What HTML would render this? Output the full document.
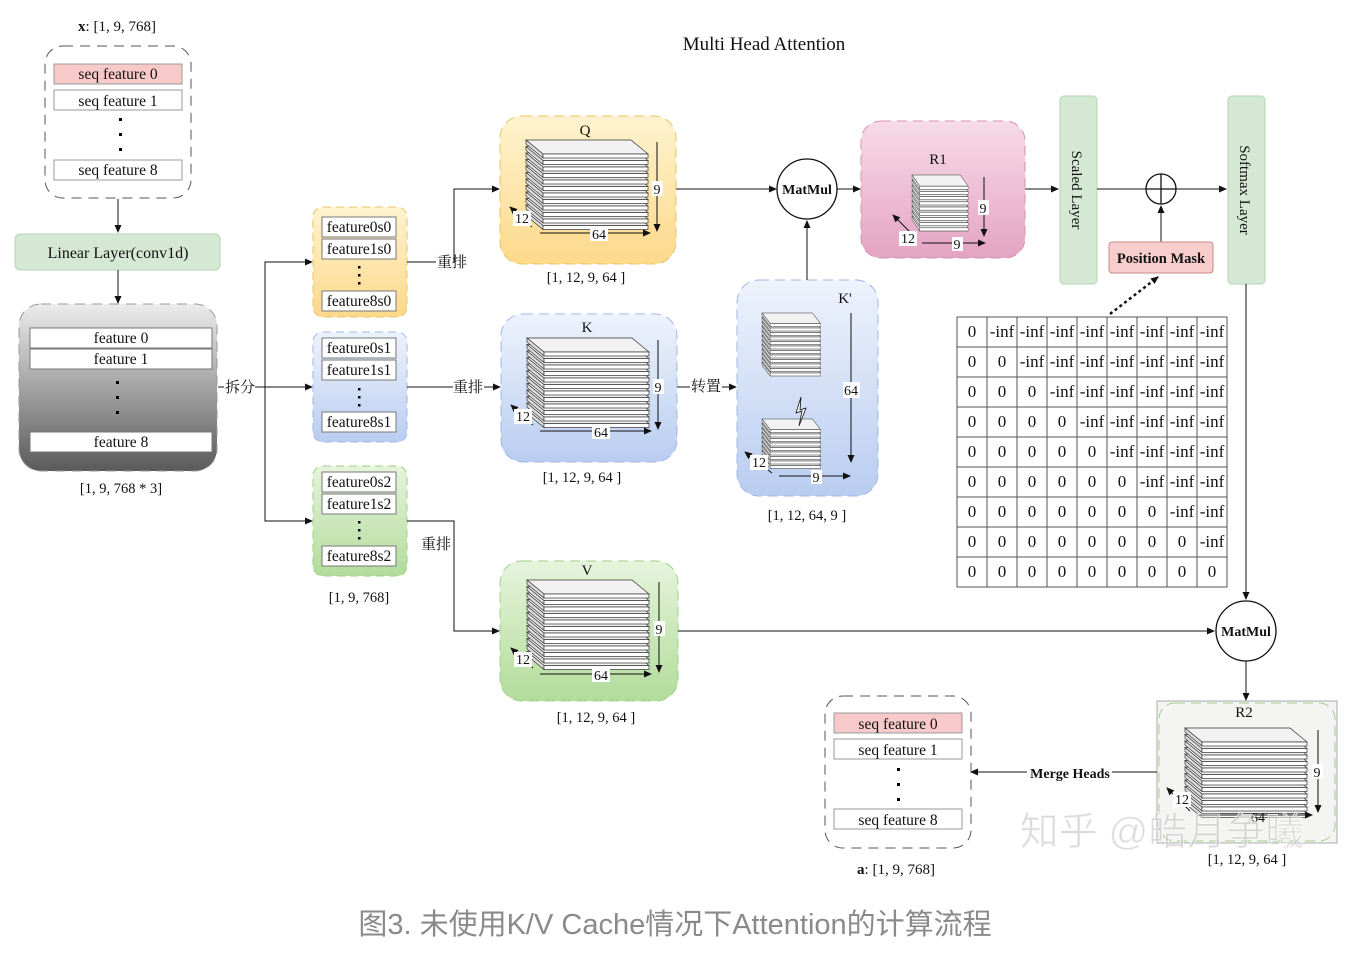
<!DOCTYPE html>
<html><head><meta charset="utf-8"><style>
html,body{margin:0;padding:0;background:#fff}
svg{display:block}
text{font-family:"Liberation Serif","Noto Serif CJK SC","Noto Sans CJK SC",serif;fill:#111}
.cap{font-family:"Liberation Sans","Noto Sans CJK SC",sans-serif;fill:#8a8a8a}
</style></head><body>
<svg width="1361" height="958" viewBox="0 0 1361 958" xmlns="http://www.w3.org/2000/svg">
<defs>
<marker id="ar" markerWidth="8" markerHeight="8" refX="7" refY="4" orient="auto" markerUnits="userSpaceOnUse"><path d="M0,0.5 L8,4 L0,7.5z" fill="#111"/></marker>
<linearGradient id="gy" x1="0" y1="0" x2="0" y2="1"><stop offset="0" stop-color="#ececec"/><stop offset="1" stop-color="#5a5a5a"/></linearGradient>
<linearGradient id="gyel" x1="0" y1="0" x2="0" y2="1"><stop offset="0" stop-color="#fff3cf"/><stop offset="1" stop-color="#fcd98a"/></linearGradient>
<linearGradient id="gblu" x1="0" y1="0" x2="0" y2="1"><stop offset="0" stop-color="#eef3fc"/><stop offset="1" stop-color="#b9cdf0"/></linearGradient>
<linearGradient id="ggrn" x1="0" y1="0" x2="0" y2="1"><stop offset="0" stop-color="#e6f4dc"/><stop offset="1" stop-color="#b2dc9b"/></linearGradient>
<linearGradient id="gpink" x1="0" y1="0" x2="0" y2="1"><stop offset="0" stop-color="#f7dbe7"/><stop offset="1" stop-color="#e4a4c2"/></linearGradient>
<g id="plate"><path d="M0,0 L105,0 L122,14 L17,14z" fill="#f2f2f2" stroke="#333" stroke-width="0.7"/><path d="M0,0 L17,14 L17,18 L0,4z" fill="#ddd" stroke="#333" stroke-width="0.7"/><rect x="17" y="14" width="105" height="4" fill="#fff" stroke="#333" stroke-width="0.7"/></g>
<g id="stack12"><use href="#plate" y="71.5"/><use href="#plate" y="65"/><use href="#plate" y="58.5"/><use href="#plate" y="52"/><use href="#plate" y="45.5"/><use href="#plate" y="39"/><use href="#plate" y="32.5"/><use href="#plate" y="26"/><use href="#plate" y="19.5"/><use href="#plate" y="13"/><use href="#plate" y="6.5"/><use href="#plate" y="0"/></g>
</defs>

<!-- input x -->
<text x="117" y="31" font-size="15" text-anchor="middle"><tspan font-weight="bold">x</tspan>: [1, 9, 768]</text>
<rect x="45" y="46" width="146" height="152" rx="18" fill="#fff" stroke="#555" stroke-dasharray="10,7"/>
<rect x="54" y="64" width="128" height="20" fill="#f8c9c9" stroke="#999"/><text x="118" y="79" font-size="15.5" text-anchor="middle">seq feature 0</text>
<rect x="54" y="90" width="128" height="20" fill="#fff" stroke="#999"/><text x="118" y="106" font-size="15.5" text-anchor="middle">seq feature 1</text>
<rect x="119" y="118" width="3" height="3"/><rect x="119" y="133" width="3" height="3"/><rect x="119" y="148" width="3" height="3"/>
<rect x="54" y="160" width="128" height="20" fill="#fff" stroke="#999"/><text x="118" y="175" font-size="15.5" text-anchor="middle">seq feature 8</text>
<line x1="118" y1="199" x2="118" y2="232" stroke="#111" marker-end="url(#ar)"/>
<rect x="15" y="234" width="205" height="36" rx="5" fill="#d5e8d4" stroke="#b5d6b0"/>
<text x="118" y="258" font-size="16" text-anchor="middle">Linear Layer(conv1d)</text>
<line x1="118" y1="270" x2="118" y2="303" stroke="#111" marker-end="url(#ar)"/>
<rect x="19" y="304" width="198" height="167" rx="22" fill="url(#gy)" stroke="#999" stroke-dasharray="10,7"/>
<rect x="30" y="328" width="182" height="20" fill="#fff" stroke="#777"/><text x="121" y="343" font-size="15.5" text-anchor="middle">feature 0</text>
<rect x="30" y="349" width="182" height="20" fill="#fff" stroke="#777"/><text x="121" y="364" font-size="15.5" text-anchor="middle">feature 1</text>
<rect x="116" y="381" width="3" height="3"/><rect x="116" y="396" width="3" height="3"/><rect x="116" y="411" width="3" height="3"/>
<rect x="30" y="432" width="182" height="20" fill="#fff" stroke="#777"/><text x="121" y="447" font-size="15.5" text-anchor="middle">feature 8</text>
<text x="121" y="493" font-size="14.5" text-anchor="middle">[1, 9, 768 * 3]</text>

<!-- split -->
<line x1="218" y1="387" x2="224" y2="387" stroke="#111"/>
<text x="225" y="392" font-size="15">拆分</text>
<line x1="255" y1="387" x2="312" y2="387" stroke="#111" marker-end="url(#ar)"/>
<polyline points="265,387 265,262 312,262" fill="none" stroke="#111" marker-end="url(#ar)"/>
<polyline points="265,387 265,521 312,521" fill="none" stroke="#111" marker-end="url(#ar)"/>

<!-- feature groups -->
<g font-size="15.5">
<rect x="313" y="207" width="94" height="110" rx="10" fill="url(#gyel)" stroke="#e8c46a" stroke-dasharray="8,5"/>
<rect x="322" y="217" width="74" height="20" fill="#fff" stroke="#777"/><text x="359" y="232" text-anchor="middle">feature0s0</text>
<rect x="322" y="239" width="74" height="20" fill="#fff" stroke="#777"/><text x="359" y="254" text-anchor="middle">feature1s0</text>
<rect x="358" y="266" width="2.5" height="2.5"/><rect x="358" y="274" width="2.5" height="2.5"/><rect x="358" y="282" width="2.5" height="2.5"/>
<rect x="322" y="291" width="74" height="20" fill="#fff" stroke="#777"/><text x="359" y="306" text-anchor="middle">feature8s0</text>

<rect x="313" y="332" width="94" height="110" rx="10" fill="url(#gblu)" stroke="#9fb7e6" stroke-dasharray="8,5"/>
<rect x="322" y="338" width="74" height="20" fill="#fff" stroke="#777"/><text x="359" y="353" text-anchor="middle">feature0s1</text>
<rect x="322" y="360" width="74" height="20" fill="#fff" stroke="#777"/><text x="359" y="375" text-anchor="middle">feature1s1</text>
<rect x="358" y="388" width="2.5" height="2.5"/><rect x="358" y="396" width="2.5" height="2.5"/><rect x="358" y="404" width="2.5" height="2.5"/>
<rect x="322" y="412" width="74" height="20" fill="#fff" stroke="#777"/><text x="359" y="427" text-anchor="middle">feature8s1</text>

<rect x="313" y="466" width="94" height="110" rx="10" fill="url(#ggrn)" stroke="#9fd088" stroke-dasharray="8,5"/>
<rect x="322" y="472" width="74" height="20" fill="#fff" stroke="#777"/><text x="359" y="487" text-anchor="middle">feature0s2</text>
<rect x="322" y="494" width="74" height="20" fill="#fff" stroke="#777"/><text x="359" y="509" text-anchor="middle">feature1s2</text>
<rect x="358" y="521" width="2.5" height="2.5"/><rect x="358" y="529" width="2.5" height="2.5"/><rect x="358" y="537" width="2.5" height="2.5"/>
<rect x="322" y="546" width="74" height="20" fill="#fff" stroke="#777"/><text x="359" y="561" text-anchor="middle">feature8s2</text>
</g>
<text x="359" y="602" font-size="14.5" text-anchor="middle">[1, 9, 768]</text>

<!-- rearrange connectors -->
<line x1="407" y1="262" x2="436" y2="262" stroke="#111"/>
<text x="437" y="267" font-size="15">重排</text>
<polyline points="454,262 454,189 499,189" fill="none" stroke="#111" marker-end="url(#ar)"/>
<line x1="407" y1="387" x2="453" y2="387" stroke="#111"/>
<text x="453" y="392" font-size="15">重排</text>
<line x1="484" y1="387" x2="500" y2="387" stroke="#111" marker-end="url(#ar)"/>
<polyline points="407,521 454,521 454,631 499,631" fill="none" stroke="#111" marker-end="url(#ar)"/>
<rect x="420" y="535" width="32" height="18" fill="#fff"/>
<text x="421" y="549" font-size="15">重排</text>

<!-- Q -->
<rect x="500" y="116" width="176" height="148" rx="22" fill="url(#gyel)" stroke="#e8c46a" stroke-dasharray="10,6"/>
<text x="585" y="135" font-size="15" text-anchor="middle">Q</text>
<use href="#stack12" x="526" y="140"/>
<line x1="657" y1="142" x2="657" y2="231" stroke="#111" marker-end="url(#ar)"/>
<rect x="652" y="181" width="11" height="15" fill="#fff"/><text x="657" y="194" font-size="14" text-anchor="middle">9</text>
<line x1="540" y1="233" x2="650" y2="233" stroke="#111" marker-end="url(#ar)"/>
<rect x="590" y="227" width="18" height="14" fill="#fff"/><text x="599" y="239" font-size="14" text-anchor="middle">64</text>
<line x1="532" y1="227" x2="510" y2="207" stroke="#111" marker-end="url(#ar)"/>
<rect x="513" y="211" width="18" height="15" fill="#fff"/><text x="522" y="223" font-size="14" text-anchor="middle">12</text>
<text x="586" y="282" font-size="14.5" text-anchor="middle">[1, 12, 9, 64 ]</text>

<!-- K -->
<rect x="501" y="314" width="176" height="148" rx="22" fill="url(#gblu)" stroke="#9fb7e6" stroke-dasharray="10,6"/>
<text x="587" y="332" font-size="15" text-anchor="middle">K</text>
<use href="#stack12" x="527" y="338"/>
<line x1="658" y1="340" x2="658" y2="429" stroke="#111" marker-end="url(#ar)"/>
<rect x="653" y="379" width="11" height="15" fill="#fff"/><text x="658" y="392" font-size="14" text-anchor="middle">9</text>
<line x1="540" y1="431" x2="651" y2="431" stroke="#111" marker-end="url(#ar)"/>
<rect x="592" y="425" width="18" height="14" fill="#fff"/><text x="601" y="437" font-size="14" text-anchor="middle">64</text>
<line x1="533" y1="425" x2="511" y2="405" stroke="#111" marker-end="url(#ar)"/>
<rect x="514" y="409" width="18" height="15" fill="#fff"/><text x="523" y="421" font-size="14" text-anchor="middle">12</text>
<text x="582" y="482" font-size="14.5" text-anchor="middle">[1, 12, 9, 64 ]</text>
<line x1="677" y1="387" x2="690" y2="387" stroke="#111"/>
<text x="691" y="391" font-size="15">转置</text>
<line x1="722" y1="387" x2="736" y2="387" stroke="#111" marker-end="url(#ar)"/>

<!-- V -->
<rect x="500" y="561" width="178" height="140" rx="22" fill="url(#ggrn)" stroke="#9fd088" stroke-dasharray="10,6"/>
<text x="587" y="575" font-size="15" text-anchor="middle">V</text>
<use href="#stack12" x="527" y="580"/>
<line x1="659" y1="582" x2="659" y2="672" stroke="#111" marker-end="url(#ar)"/>
<rect x="654" y="621" width="11" height="15" fill="#fff"/><text x="659" y="634" font-size="14" text-anchor="middle">9</text>
<line x1="540" y1="674" x2="651" y2="674" stroke="#111" marker-end="url(#ar)"/>
<rect x="592" y="668" width="18" height="14" fill="#fff"/><text x="601" y="680" font-size="14" text-anchor="middle">64</text>
<line x1="533" y1="668" x2="511" y2="648" stroke="#111" marker-end="url(#ar)"/>
<rect x="514" y="652" width="18" height="15" fill="#fff"/><text x="523" y="664" font-size="14" text-anchor="middle">12</text>
<text x="596" y="722" font-size="14.5" text-anchor="middle">[1, 12, 9, 64 ]</text>
<line x1="678" y1="631" x2="1214" y2="631" stroke="#111" marker-end="url(#ar)"/>

<!-- K' -->
<rect x="737" y="280" width="141" height="216" rx="22" fill="url(#gblu)" stroke="#9fb7e6" stroke-dasharray="10,6"/>
<text x="845" y="303" font-size="15" text-anchor="middle">K'</text>
<g transform="translate(762,313) scale(0.48,0.75)"><use href="#plate" y="66"/><use href="#plate" y="60"/><use href="#plate" y="54"/><use href="#plate" y="48"/><use href="#plate" y="42"/><use href="#plate" y="36"/><use href="#plate" y="30"/><use href="#plate" y="24"/><use href="#plate" y="18"/><use href="#plate" y="12"/><use href="#plate" y="6"/><use href="#plate" y="0"/></g>
<g transform="translate(762,419) scale(0.48,0.75)"><use href="#plate" y="48"/><use href="#plate" y="42"/><use href="#plate" y="36"/><use href="#plate" y="30"/><use href="#plate" y="24"/><use href="#plate" y="18"/><use href="#plate" y="12"/><use href="#plate" y="6"/><use href="#plate" y="0"/></g>
<path d="M801,397 L796,413 L802,411 L799,426 L806,408 L800,410z" fill="#fff" stroke="#111" stroke-width="0.8"/>
<line x1="851" y1="313" x2="851" y2="462" stroke="#111" marker-end="url(#ar)"/>
<rect x="843" y="382" width="17" height="16" fill="#fff"/><text x="851" y="395" font-size="14" text-anchor="middle">64</text>
<line x1="779" y1="476" x2="850" y2="476" stroke="#111" marker-end="url(#ar)"/>
<rect x="811" y="470" width="11" height="14" fill="#fff"/><text x="816" y="482" font-size="14" text-anchor="middle">9</text>
<line x1="772" y1="473" x2="745" y2="452" stroke="#111" marker-end="url(#ar)"/>
<rect x="750" y="455" width="18" height="15" fill="#fff"/><text x="759" y="467" font-size="14" text-anchor="middle">12</text>
<text x="807" y="520" font-size="14.5" text-anchor="middle">[1, 12, 64, 9 ]</text>
<line x1="807" y1="280" x2="807" y2="221" stroke="#111" marker-end="url(#ar)"/>

<!-- MatMul 1 -->
<line x1="676" y1="189" x2="776" y2="189" stroke="#111" marker-end="url(#ar)"/>
<circle cx="807" cy="189" r="30" fill="#fff" stroke="#111" stroke-width="1.3"/>
<text x="807" y="194" font-size="14" font-weight="bold" text-anchor="middle">MatMul</text>
<line x1="837" y1="189" x2="860" y2="189" stroke="#111" marker-end="url(#ar)"/>
<text x="764" y="50" font-size="19" text-anchor="middle">Multi Head Attention</text>

<!-- R1 -->
<rect x="861" y="121" width="164" height="137" rx="20" fill="url(#gpink)" stroke="#d88fb3" stroke-dasharray="10,6"/>
<text x="938" y="164" font-size="15" text-anchor="middle">R1</text>
<g transform="translate(912,175) scale(0.46,0.8)"><use href="#plate" y="52"/><use href="#plate" y="45.5"/><use href="#plate" y="39"/><use href="#plate" y="32.5"/><use href="#plate" y="26"/><use href="#plate" y="19.5"/><use href="#plate" y="13"/><use href="#plate" y="6.5"/><use href="#plate" y="0"/></g>
<line x1="984" y1="177" x2="984" y2="236" stroke="#111" marker-end="url(#ar)"/>
<rect x="978" y="200" width="11" height="15" fill="#fff"/><text x="983" y="213" font-size="14" text-anchor="middle">9</text>
<line x1="922" y1="243" x2="985" y2="243" stroke="#111" marker-end="url(#ar)"/>
<rect x="952" y="237" width="11" height="14" fill="#fff"/><text x="957" y="249" font-size="14" text-anchor="middle">9</text>
<line x1="914" y1="236" x2="893" y2="215" stroke="#111" marker-end="url(#ar)"/>
<rect x="899" y="231" width="18" height="15" fill="#fff"/><text x="908" y="243" font-size="14" text-anchor="middle">12</text>
<line x1="1025" y1="189" x2="1058" y2="189" stroke="#111" marker-end="url(#ar)"/>

<!-- Scaled / Softmax -->
<rect x="1060" y="96" width="37" height="188" rx="4" fill="#d5e8d4" stroke="#b5d6b0"/>
<text font-size="15" transform="translate(1072,190) rotate(90)" text-anchor="middle">Scaled Layer</text>
<line x1="1097" y1="189" x2="1226" y2="189" stroke="#111" marker-end="url(#ar)"/>
<circle cx="1161" cy="189" r="15" fill="#fff" stroke="#111" stroke-width="1.3"/>
<line x1="1146" y1="189" x2="1176" y2="189" stroke="#111" stroke-width="1.3"/><line x1="1161" y1="174" x2="1161" y2="204" stroke="#111" stroke-width="1.3"/>
<rect x="1228" y="96" width="37" height="188" rx="4" fill="#d5e8d4" stroke="#b5d6b0"/>
<text font-size="15" transform="translate(1240,190) rotate(90)" text-anchor="middle">Softmax Layer</text>
<line x1="1161" y1="242" x2="1161" y2="206" stroke="#111" marker-end="url(#ar)"/>
<rect x="1109" y="242" width="104" height="31" rx="3" fill="#f8cecc" stroke="#c98b89"/>
<text x="1161" y="263" font-size="14.5" font-weight="bold" text-anchor="middle">Position Mask</text>
<line x1="1110" y1="314" x2="1158" y2="277" stroke="#111" stroke-width="2.5" stroke-dasharray="3,3" marker-end="url(#ar)"/>

<!-- matrix -->
<g font-size="17" text-anchor="middle">
<rect x="957" y="317" width="270" height="270" fill="#fff" stroke="#555"/>
<path d="M957,347H1227M957,377H1227M957,407H1227M957,437H1227M957,467H1227M957,497H1227M957,527H1227M957,557H1227M987,317V587M1017,317V587M1047,317V587M1077,317V587M1107,317V587M1137,317V587M1167,317V587M1197,317V587" stroke="#555" fill="none"/>
<text x="972" y="337">0</text><text x="1002" y="337">-inf</text><text x="1032" y="337">-inf</text><text x="1062" y="337">-inf</text><text x="1092" y="337">-inf</text><text x="1122" y="337">-inf</text><text x="1152" y="337">-inf</text><text x="1182" y="337">-inf</text><text x="1212" y="337">-inf</text>
<text x="972" y="367">0</text><text x="1002" y="367">0</text><text x="1032" y="367">-inf</text><text x="1062" y="367">-inf</text><text x="1092" y="367">-inf</text><text x="1122" y="367">-inf</text><text x="1152" y="367">-inf</text><text x="1182" y="367">-inf</text><text x="1212" y="367">-inf</text>
<text x="972" y="397">0</text><text x="1002" y="397">0</text><text x="1032" y="397">0</text><text x="1062" y="397">-inf</text><text x="1092" y="397">-inf</text><text x="1122" y="397">-inf</text><text x="1152" y="397">-inf</text><text x="1182" y="397">-inf</text><text x="1212" y="397">-inf</text>
<text x="972" y="427">0</text><text x="1002" y="427">0</text><text x="1032" y="427">0</text><text x="1062" y="427">0</text><text x="1092" y="427">-inf</text><text x="1122" y="427">-inf</text><text x="1152" y="427">-inf</text><text x="1182" y="427">-inf</text><text x="1212" y="427">-inf</text>
<text x="972" y="457">0</text><text x="1002" y="457">0</text><text x="1032" y="457">0</text><text x="1062" y="457">0</text><text x="1092" y="457">0</text><text x="1122" y="457">-inf</text><text x="1152" y="457">-inf</text><text x="1182" y="457">-inf</text><text x="1212" y="457">-inf</text>
<text x="972" y="487">0</text><text x="1002" y="487">0</text><text x="1032" y="487">0</text><text x="1062" y="487">0</text><text x="1092" y="487">0</text><text x="1122" y="487">0</text><text x="1152" y="487">-inf</text><text x="1182" y="487">-inf</text><text x="1212" y="487">-inf</text>
<text x="972" y="517">0</text><text x="1002" y="517">0</text><text x="1032" y="517">0</text><text x="1062" y="517">0</text><text x="1092" y="517">0</text><text x="1122" y="517">0</text><text x="1152" y="517">0</text><text x="1182" y="517">-inf</text><text x="1212" y="517">-inf</text>
<text x="972" y="547">0</text><text x="1002" y="547">0</text><text x="1032" y="547">0</text><text x="1062" y="547">0</text><text x="1092" y="547">0</text><text x="1122" y="547">0</text><text x="1152" y="547">0</text><text x="1182" y="547">0</text><text x="1212" y="547">-inf</text>
<text x="972" y="577">0</text><text x="1002" y="577">0</text><text x="1032" y="577">0</text><text x="1062" y="577">0</text><text x="1092" y="577">0</text><text x="1122" y="577">0</text><text x="1152" y="577">0</text><text x="1182" y="577">0</text><text x="1212" y="577">0</text>
</g>

<!-- MatMul 2 -->
<line x1="1246" y1="284" x2="1246" y2="599" stroke="#111" marker-end="url(#ar)"/>
<circle cx="1246" cy="631" r="30" fill="#fff" stroke="#111" stroke-width="1.3"/>
<text x="1246" y="636" font-size="14" font-weight="bold" text-anchor="middle">MatMul</text>
<line x1="1246" y1="661" x2="1246" y2="700" stroke="#111" marker-end="url(#ar)"/>

<!-- R2 -->
<rect x="1157" y="701" width="180" height="142" fill="#f4f4f2" stroke="#aaa"/>
<rect x="1159" y="703" width="176" height="138" rx="16" fill="none" stroke="#9fd088" stroke-dasharray="10,6"/>
<text x="1244" y="717" font-size="15" text-anchor="middle">R2</text>
<use href="#stack12" x="1185" y="728"/>
<line x1="1318" y1="730" x2="1318" y2="812" stroke="#111" marker-end="url(#ar)"/>
<rect x="1312" y="764" width="11" height="15" fill="#fff"/><text x="1317" y="777" font-size="14" text-anchor="middle">9</text>
<line x1="1200" y1="815" x2="1312" y2="815" stroke="#111" marker-end="url(#ar)"/>
<text x="1258" y="822" font-size="14" text-anchor="middle">64</text>
<line x1="1190" y1="811" x2="1167" y2="788" stroke="#111" marker-end="url(#ar)"/>
<rect x="1173" y="792" width="18" height="15" fill="#fff"/><text x="1182" y="804" font-size="14" text-anchor="middle">12</text>
<text x="1247" y="864" font-size="14.5" text-anchor="middle">[1, 12, 9, 64 ]</text>
<line x1="1157" y1="772" x2="1112" y2="772" stroke="#111"/>
<text x="1070" y="778" font-size="14" font-weight="bold" text-anchor="middle">Merge Heads</text>
<line x1="1027" y1="772" x2="971" y2="772" stroke="#111" marker-end="url(#ar)"/>

<!-- output a -->
<rect x="825" y="696" width="146" height="152" rx="18" fill="#fff" stroke="#555" stroke-dasharray="10,7"/>
<rect x="834" y="713" width="128" height="20" fill="#f8c9c9" stroke="#999"/><text x="898" y="729" font-size="15.5" text-anchor="middle">seq feature 0</text>
<rect x="834" y="739" width="128" height="20" fill="#fff" stroke="#999"/><text x="898" y="755" font-size="15.5" text-anchor="middle">seq feature 1</text>
<rect x="897" y="768" width="3" height="3"/><rect x="897" y="783" width="3" height="3"/><rect x="897" y="798" width="3" height="3"/>
<rect x="834" y="809" width="128" height="20" fill="#fff" stroke="#999"/><text x="898" y="825" font-size="15.5" text-anchor="middle">seq feature 8</text>
<text x="896" y="874" font-size="15" text-anchor="middle"><tspan font-weight="bold">a</tspan>: [1, 9, 768]</text>

<!-- watermark -->
<text x="1162" y="845" font-size="39" text-anchor="middle" style="fill:rgba(190,190,190,0.55);font-family:'Liberation Sans','Noto Sans CJK SC',sans-serif" stroke="rgba(255,255,255,0.7)" stroke-width="1">知乎 @皓月争曦</text>

<text class="cap" x="675" y="934" font-size="29" text-anchor="middle">图3. 未使用K/V Cache情况下Attention的计算流程</text>
</svg>
</body></html>
